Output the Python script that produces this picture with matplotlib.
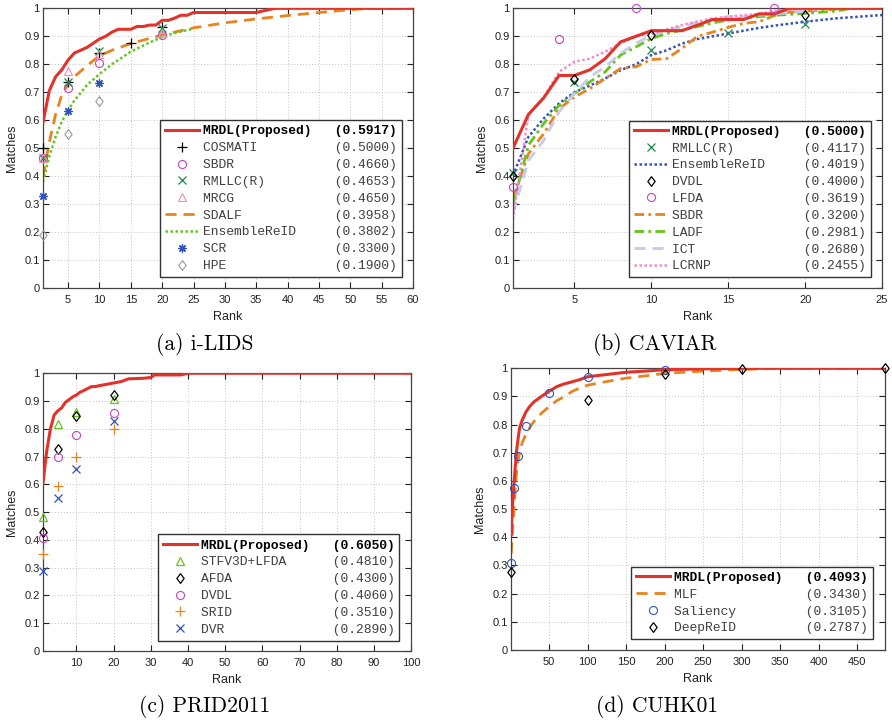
import matplotlib
matplotlib.use('Agg')
import matplotlib.pyplot as plt

# ---------------- data ----------------
y_ticks = [0, 0.1, 0.2, 0.3, 0.4, 0.5, 0.6, 0.7, 0.8, 0.9, 1.0]
y_tick_labels = ['0', '0.1', '0.2', '0.3', '0.4', '0.5', '0.6', '0.7', '0.8', '0.9', '1']

# (a) i-LIDS
ilids_xticks = [5, 10, 15, 20, 25, 30, 35, 40, 45, 50, 55, 60]
ilids_mrdl_rank = [1, 2, 3, 4, 5, 6, 7, 8, 9, 10, 11, 12, 13, 14, 15, 16, 17, 18, 19, 20,
                   21, 22, 23, 24, 25, 30, 35, 36, 37, 38, 40, 50, 60]
ilids_mrdl = [0.5917, 0.705, 0.755, 0.78, 0.815, 0.84, 0.85, 0.86, 0.875, 0.89, 0.90, 0.915,
              0.925, 0.925, 0.925, 0.935, 0.935, 0.94, 0.94, 0.957, 0.957, 0.965, 0.975, 0.975,
              0.985, 0.985, 0.985, 0.99, 0.995, 1.0, 1.0, 1.0, 1.0]
ilids_sdalf_rank = [1, 2, 3, 4, 5, 6, 8, 10, 12, 15, 20, 25, 30, 35, 40, 45, 50, 53, 60]
ilids_sdalf = [0.3958, 0.52, 0.62, 0.69, 0.73, 0.755, 0.795, 0.83, 0.85, 0.874, 0.905, 0.93,
               0.948, 0.962, 0.974, 0.985, 0.995, 1.0, 1.0]
ilids_ens_rank = [1, 2, 3, 4, 5, 6, 8, 10, 12, 15, 18, 20, 22, 25]
ilids_ens = [0.3802, 0.47, 0.54, 0.595, 0.636, 0.67, 0.725, 0.765, 0.80, 0.845, 0.878, 0.897,
             0.912, 0.927]
ilids_cosmati_rank = [1, 5, 10, 15, 20]
ilids_cosmati = [0.50, 0.735, 0.84, 0.875, 0.932]
ilids_sbdr_rank = [1, 5, 10, 20]
ilids_sbdr = [0.466, 0.715, 0.805, 0.905]
ilids_rmllc_rank = [1, 5, 10, 20]
ilids_rmllc = [0.4653, 0.735, 0.848, 0.93]
ilids_mrcg_rank = [1, 5, 10, 20]
ilids_mrcg = [0.465, 0.775, 0.835, 0.91]
ilids_scr_rank = [1, 5, 10]
ilids_scr = [0.33, 0.632, 0.732]
ilids_hpe_rank = [1, 5, 10]
ilids_hpe = [0.19, 0.55, 0.67]

# (b) CAVIAR
caviar_xticks = [5, 10, 15, 20, 25]
caviar_rank = list(range(1, 26))
caviar_mrdl = [0.50, 0.62, 0.68, 0.76, 0.76, 0.78, 0.82, 0.88, 0.90, 0.92, 0.92, 0.92, 0.94,
               0.96, 0.96, 0.96, 0.98, 0.98, 1.0, 1.0, 1.0, 1.0, 1.0, 1.0, 1.0]
caviar_ens = [0.4019, 0.54, 0.606, 0.66, 0.70, 0.724, 0.749, 0.779, 0.80, 0.833, 0.85, 0.874,
              0.89, 0.90, 0.91, 0.92, 0.93, 0.938, 0.945, 0.952, 0.958, 0.964, 0.968, 0.972, 0.976]
caviar_sbdr = [0.32, 0.48, 0.552, 0.641, 0.683, 0.713, 0.749, 0.785, 0.791, 0.817, 0.82, 0.857,
               0.90, 0.915, 0.932, 0.946, 0.952, 0.974, 0.986, 0.99, 0.993, 0.997, 1.0, 1.0, 1.0]
caviar_ladf = [0.2981, 0.51, 0.588, 0.653, 0.695, 0.737, 0.773, 0.833, 0.862, 0.892, 0.91, 0.922,
               0.935, 0.948, 0.958, 0.965, 0.97, 0.975, 0.978, 0.982, 0.986, 0.99, 1.0, 1.0, 1.0]
caviar_ict = [0.268, 0.456, 0.528, 0.63, 0.695, 0.755, 0.791, 0.839, 0.875, 0.904, 0.92, 0.935,
              0.95, 0.96, 0.97, 0.97, 0.975, 0.98, 0.985, 0.99, 1.0, 1.0, 1.0, 1.0, 1.0]
caviar_lcrnp = [0.2455, 0.62, 0.683, 0.773, 0.809, 0.82, 0.845, 0.875, 0.90, 0.91, 0.925, 0.94,
                0.953, 0.964, 0.97, 0.975, 0.98, 0.99, 0.995, 1.0, 1.0, 1.0, 1.0, 1.0, 1.0]
caviar_rmllc_rank = [1, 5, 10, 15, 20]
caviar_rmllc = [0.4117, 0.737, 0.851, 0.91, 0.944]
caviar_dvdl_rank = [1, 5, 10, 20]
caviar_dvdl = [0.40, 0.749, 0.904, 0.976]
caviar_lfda_rank = [1, 4, 9, 18]
caviar_lfda = [0.3619, 0.889, 1.0, 1.0]

# (c) PRID2011
prid_xticks = [10, 20, 30, 40, 50, 60, 70, 80, 90, 100]
prid_mrdl_rank = [1, 2, 3, 4, 5, 6, 7, 8, 9, 10, 11, 12, 13, 14, 15, 16, 18, 20, 22, 23, 24,
                  28, 30, 31, 38, 40, 100]
prid_mrdl = [0.605, 0.72, 0.80, 0.85, 0.865, 0.875, 0.895, 0.905, 0.915, 0.922, 0.932, 0.938,
             0.945, 0.952, 0.952, 0.955, 0.96, 0.965, 0.97, 0.975, 0.98, 0.982, 0.985, 0.994,
             0.994, 1.0, 1.0]
prid_mark_rank = [1, 5, 10, 20]
prid_stfv = [0.481, 0.817, 0.862, 0.906]
prid_afda = [0.43, 0.727, 0.847, 0.922]
prid_dvdl = [0.406, 0.697, 0.778, 0.857]
prid_srid = [0.351, 0.595, 0.697, 0.799]
prid_dvr = [0.289, 0.552, 0.655, 0.829]

# (d) CUHK01
cuhk_xticks = [50, 100, 150, 200, 250, 300, 350, 400, 450]
cuhk_mrdl_rank = [1, 2, 3, 4, 5, 6, 8, 10, 12, 15, 20, 25, 30, 40, 50, 60, 70, 80, 90, 100,
                  125, 150, 175, 200, 250, 300, 486]
cuhk_mrdl = [0.4093, 0.49, 0.53, 0.57, 0.61, 0.645, 0.71, 0.755, 0.79, 0.815, 0.845, 0.865,
             0.88, 0.90, 0.918, 0.935, 0.945, 0.952, 0.96, 0.97, 0.978, 0.986, 0.99, 0.995,
             0.998, 1.0, 1.0]
cuhk_mlf_rank = [1, 2, 3, 4, 5, 6, 8, 10, 12, 15, 20, 25, 30, 40, 50, 60, 70, 80, 90, 100,
                 125, 150, 175, 200, 250, 300, 350, 486]
cuhk_mlf = [0.343, 0.40, 0.44, 0.48, 0.52, 0.565, 0.635, 0.675, 0.705, 0.735, 0.765, 0.79,
            0.81, 0.84, 0.864, 0.885, 0.90, 0.918, 0.93, 0.94, 0.953, 0.965, 0.973, 0.982,
            0.99, 0.996, 1.0, 1.0]
cuhk_sal_rank = [1, 5, 10, 20, 50, 100, 200]
cuhk_sal = [0.3105, 0.574, 0.69, 0.795, 0.913, 0.968, 0.994]
cuhk_deep_rank = [1, 100, 200, 300, 486]
cuhk_deep = [0.2787, 0.887, 0.98, 0.997, 1.0]

# colors
RED = '#e2332a'
ORANGE = '#e8841f'
LGREEN = '#66c41a'
DGREEN = '#1f8a4c'
MAGENTA = '#c545c0'
PINK = '#f08cb4'
BLUE = '#3352bb'
GRAY = '#9a9a9a'
LAVENDER = '#c9c9ef'
LPINK = '#f28ccc'

# matlab style diamond, a bit wider than matplotlib's thin one
DIAMOND = [(0, 1), (0.75, 0), (0, -1), (-0.75, 0), (0, 1)]

plt.rcParams['font.family'] = ['Liberation Sans', 'DejaVu Sans']
fig = plt.figure(figsize=(8.92, 7.22), dpi=100)


def lab(name, score):
    return f"{name:<17}({score})"


def style_axes(ax, xmax, xticks, h_px, w_px):
    ax.set_xlim(1, xmax)
    ax.set_ylim(0, 1)
    ax.set_xticks(xticks)
    ax.set_yticks(y_ticks)
    ax.set_yticklabels(y_tick_labels)
    ax.grid(True, linestyle=(0, (1, 2)), color='#c4c4c4', linewidth=0.7)
    ax.set_axisbelow(True)
    ax.tick_params(direction='in', top=True, right=True, length=4, width=0.8,
                   labelsize=8, colors='#222222')
    ax.tick_params(axis='x', pad=5)
    ax.tick_params(axis='y', pad=2.5)
    for s in ax.spines.values():
        s.set_color('#444444')
        s.set_linewidth(0.9)
    ax.set_xlabel('Rank', fontsize=9, va='center', color='#222222')
    ax.set_ylabel('Matches', fontsize=9, va='center', color='#222222')
    ax.xaxis.set_label_coords(0.5, -29 / h_px)
    ax.yaxis.set_label_coords(-31 / w_px, 0.5)


def add_legend(ax, anchor):
    leg = ax.legend(loc='lower right', bbox_to_anchor=anchor, borderaxespad=0,
                    prop={'family': 'Liberation Mono', 'size': 9.4},
                    fancybox=False, framealpha=1, edgecolor='#333333',
                    handlelength=2.6, handletextpad=0.3, labelspacing=0.36,
                    borderpad=0.38)
    leg.get_frame().set_linewidth(1.0)
    for t in leg.get_texts():
        t.set_color('#404040')
    leg.get_texts()[0].set_fontweight('bold')
    leg.get_texts()[0].set_color('black')
    return leg


mk = dict(ls='none', mfc='none', clip_on=False, zorder=4)

# ---------------- (a) i-LIDS ----------------
ax = fig.add_axes([0.0482, 0.6011, 0.4148, 0.3874])
ax.plot(ilids_mrdl_rank, ilids_mrdl, color=RED, lw=2.2, label=lab('MRDL(Proposed)', '0.5917'), zorder=3)
ax.plot(ilids_cosmati_rank, ilids_cosmati, marker='+', ms=6.5, mew=0.9, color='black', label=lab('COSMATI', '0.5000'), **mk)
ax.plot(ilids_sbdr_rank, ilids_sbdr, marker='o', ms=5.8, mew=0.8, color=MAGENTA, label=lab('SBDR', '0.4660'), **mk)
ax.plot(ilids_rmllc_rank, ilids_rmllc, marker='x', ms=5.5, mew=0.9, color=DGREEN, label=lab('RMLLC(R)', '0.4653'), **mk)
ax.plot(ilids_mrcg_rank, ilids_mrcg, marker='^', ms=6, mew=0.8, color=PINK, label=lab('MRCG', '0.4650'), **mk)
ax.plot(ilids_sdalf_rank, ilids_sdalf, color=ORANGE, lw=2, ls=(0, (4, 2.5)), label=lab('SDALF', '0.3958'))
ax.plot(ilids_ens_rank, ilids_ens, color=LGREEN, lw=1.8, ls=(0, (1, 1)), label=lab('EnsembleReID', '0.3802'))
ax.plot(ilids_scr_rank, ilids_scr, marker=(8, 2, 0), ms=6, mew=0.9, color=BLUE, label=lab('SCR', '0.3300'), **mk)
ax.plot(ilids_hpe_rank, ilids_hpe, marker=DIAMOND, ms=7, mew=0.8, color=GRAY, label=lab('HPE', '0.1900'), **mk)
style_axes(ax, 60, ilids_xticks, 280, 370)
add_legend(ax, (0.970, 0.039))

# ---------------- (b) CAVIAR ----------------
ax = fig.add_axes([0.5751, 0.6011, 0.4137, 0.3874])
ax.plot(caviar_rank, caviar_mrdl, color=RED, lw=2.2, label=lab('MRDL(Proposed)', '0.5000'), zorder=3)
ax.plot(caviar_rmllc_rank, caviar_rmllc, marker='x', ms=5.5, mew=0.9, color=DGREEN, label=lab('RMLLC(R)', '0.4117'), **mk)
ax.plot(caviar_rank, caviar_ens, color=BLUE, lw=1.8, ls=(0, (1, 1)), label=lab('EnsembleReID', '0.4019'))
ax.plot(caviar_dvdl_rank, caviar_dvdl, marker=DIAMOND, ms=7, mew=0.9, color='black', label=lab('DVDL', '0.4000'), **mk)
ax.plot(caviar_lfda_rank, caviar_lfda, marker='o', ms=5.8, mew=0.8, color=MAGENTA, label=lab('LFDA', '0.3619'), **mk)
ax.plot(caviar_rank, caviar_sbdr, color=ORANGE, lw=2, ls=(0, (3.5, 1.5, 1, 1.5)), label=lab('SBDR', '0.3200'))
ax.plot(caviar_rank, caviar_ladf, color=LGREEN, lw=2, ls=(0, (3.5, 1.5, 1, 1.5)), label=lab('LADF', '0.2981'))
ax.plot(caviar_rank, caviar_ict, color=LAVENDER, lw=2, ls=(0, (4, 2.5)), label=lab('ICT', '0.2680'))
ax.plot(caviar_rank, caviar_lcrnp, color=LPINK, lw=1.8, ls=(0, (1, 1)), label=lab('LCRNP', '0.2455'))
style_axes(ax, 25, caviar_xticks, 279, 369)
add_legend(ax, (0.969, 0.038))

# ---------------- (c) PRID2011 ----------------
ax = fig.add_axes([0.0482, 0.0983, 0.4126, 0.3847])
ax.plot(prid_mrdl_rank, prid_mrdl, color=RED, lw=2.2, label=lab('MRDL(Proposed)', '0.6050'), zorder=3)
ax.plot(prid_mark_rank, prid_stfv, marker='^', ms=6, mew=0.9, color=LGREEN, label=lab('STFV3D+LFDA', '0.4810'), **mk)
ax.plot(prid_mark_rank, prid_afda, marker=DIAMOND, ms=7, mew=0.9, color='black', label=lab('AFDA', '0.4300'), **mk)
ax.plot(prid_mark_rank, prid_dvdl, marker='o', ms=5.8, mew=0.8, color=MAGENTA, label=lab('DVDL', '0.4060'), **mk)
ax.plot(prid_mark_rank, prid_srid, marker='+', ms=6.5, mew=0.9, color=ORANGE, label=lab('SRID', '0.3510'), **mk)
ax.plot(prid_mark_rank, prid_dvr, marker='x', ms=5.5, mew=0.9, color=BLUE, label=lab('DVR', '0.2890'), **mk)
style_axes(ax, 100, prid_xticks, 277.7, 368)
add_legend(ax, (0.968, 0.037))

# ---------------- (d) CUHK01 ----------------
ax = fig.add_axes([0.5732, 0.0997, 0.4189, 0.3902])
ax.plot(cuhk_mrdl_rank, cuhk_mrdl, color=RED, lw=2.2, label=lab('MRDL(Proposed)', '0.4093'), zorder=3)
ax.plot(cuhk_mlf_rank, cuhk_mlf, color=ORANGE, lw=2, ls=(0, (4, 2.5)), label=lab('MLF', '0.3430'))
ax.plot(cuhk_sal_rank, cuhk_sal, marker='o', ms=5.8, mew=0.8, color=BLUE, label=lab('Saliency', '0.3105'), **mk)
ax.plot(cuhk_deep_rank, cuhk_deep, marker=DIAMOND, ms=7, mew=0.9, color='black', label=lab('DeepReID', '0.2787'), **mk)
style_axes(ax, 486, cuhk_xticks, 281.7, 373.7)
add_legend(ax, (0.968, 0.038))

# captions
cap = dict(family='cmr10', size=15.5, ha='center', va='center')
fig.text(205 / 892, 1 - 344 / 722, '(a) i-LIDS', **cap)
fig.text(655 / 892, 1 - 344 / 722, '(b) CAVIAR', **cap)
fig.text(205 / 892, 1 - 707 / 722, '(c) PRID2011', **cap)
fig.text(657 / 892, 1 - 707 / 722, '(d) CUHK01', **cap)

fig.savefig('out.png', dpi=100)
